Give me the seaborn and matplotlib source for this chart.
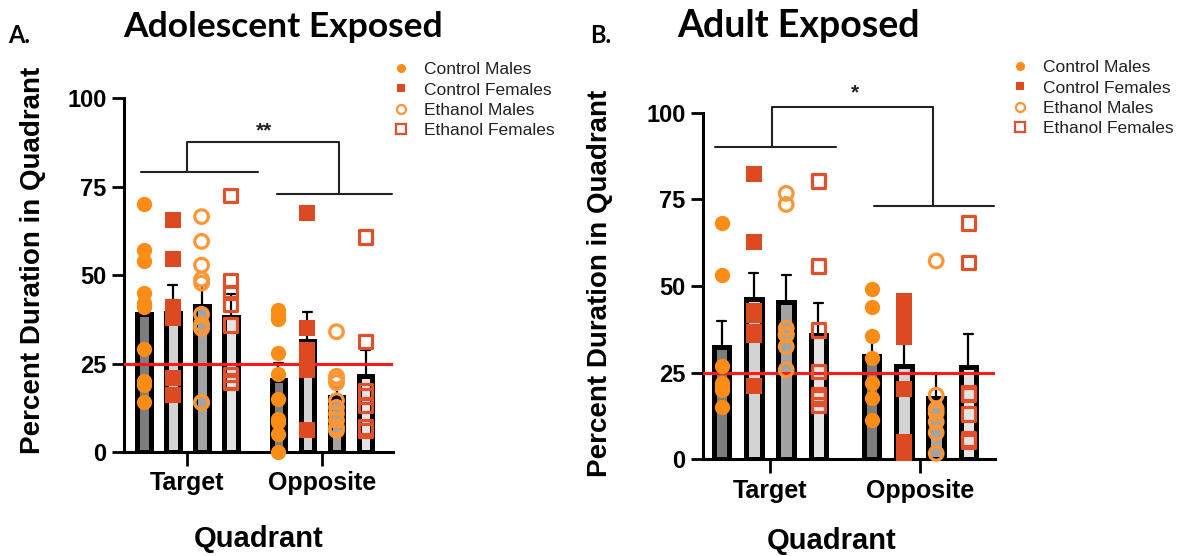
import numpy as np
import pandas as pd
import matplotlib
matplotlib.use("Agg")
import matplotlib.pyplot as plt
from matplotlib.lines import Line2D
import seaborn as sns

sns.set_theme(style="ticks")
plt.rcParams["font.family"] = ["Liberation Sans", "DejaVu Sans"]

groups = ["Control Males", "Control Females", "Ethanol Males", "Ethanol Females"]
quadrants = ["Target", "Opposite"]

# Panel A: adolescent exposed, percent duration per animal
adol_target = {
    "Control Males":   [70, 57, 54, 45, 42, 41, 29, 20, 19, 14],
    "Control Females": [65.5, 54.6, 41, 38, 21, 16],
    "Ethanol Males":   [66.5, 59.5, 52.8, 48.8, 47.7, 38.9, 36.1, 34.9, 14, 14],
    "Ethanol Females": [72.5, 48.4, 45.1, 41.9, 35.8, 21.9, 20, 19.6],
}
adol_opposite = {
    "Control Males":   [40, 38.6, 37.7, 27.9, 22.1, 15, 9.4, 8.5, 5, 0],
    "Control Females": [67.6, 34.9, 28.9, 27.5, 23.3, 6.1],
    "Ethanol Males":   [34, 21.4, 20.5, 19.6, 14.5, 12.6, 10.8, 8.9, 7, 6.1],
    "Ethanol Females": [60.7, 31.2, 17.3, 15.9, 13.1, 7, 6.1],
}

# Panel B: adult exposed, percent duration per animal
adult_target = {
    "Control Males":   [68.1, 53.2, 26.9, 22, 21, 20, 15.2],
    "Control Females": [82.3, 62.6, 42.9, 41.6, 36.8, 35.9, 21.1],
    "Ethanol Males":   [76.7, 73.5, 37.8, 36, 35.9, 32.5, 25.8],
    "Ethanol Females": [80.3, 55.8, 37.3, 25.3, 18.5, 17.6, 15.7],
}
adult_opposite = {
    "Control Males":   [49.1, 44, 35.6, 29.1, 22.1, 17.8, 11.3],
    "Control Females": [45.7, 42.9, 38.1, 35.4, 20.2, 5.1, 1.7],
    "Ethanol Males":   [57.2, 18.5, 14.5, 13.4, 10.8, 7.7, 1.7],
    "Ethanol Females": [68.1, 56.8, 19.2, 18.7, 13, 5.8, 5.1],
}

chance_level = 25

bar_fill = ["#7d7d7d", "#d3d3d3", "#a3a3a3", "#e4e4e4"]
point_style = {
    "Control Males":   dict(color="#fb8c16", marker="o", filled=True),
    "Control Females": dict(color="#dc4a22", marker="s", filled=True),
    "Ethanol Males":   dict(color="#fd9635", marker="o", filled=False),
    "Ethanol Females": dict(color="#e0502a", marker="s", filled=False),
}
SPACING = 0.215
offsets = {g: (k - 1.5) * SPACING for k, g in enumerate(groups)}


def build_frame(target, opposite):
    rows = []
    for qi, (q, block) in enumerate(zip(quadrants, [target, opposite])):
        for g in groups:
            for v in block[g]:
                rows.append({"quadrant": q, "group": g, "value": v,
                             "xpos": qi + offsets[g]})
    return pd.DataFrame(rows)


def draw_panel(ax, df, xlim):
    sns.barplot(data=df, x="xpos", y="value", hue="group", hue_order=groups,
                palette=bar_fill, native_scale=True, dodge=False, width=0.48,
                errorbar="se", capsize=0.28,
                err_kws={"color": "black", "linewidth": 1.6, "zorder": 0.8},
                edgecolor="black", linewidth=3.6, saturation=1,
                legend=False, ax=ax)
    ax.axhline(chance_level, color="#ff1a1a", lw=2.2, zorder=3)
    for g in groups:
        st = point_style[g]
        sub = df[df["group"] == g]
        n_before = len(ax.collections)
        sns.stripplot(data=sub, x="xpos", y="value", native_scale=True,
                      jitter=False, color=st["color"], marker=st["marker"],
                      size=11 if st["filled"] else 9.8, linewidth=0,
                      zorder=4, ax=ax)
        for coll in ax.collections[n_before:]:
            coll.set_clip_on(False)
            if not st["filled"]:
                coll.set_facecolor("none")
                coll.set_edgecolor(st["color"])
                coll.set_linewidth(2.3)
    ax.set_xlim(*xlim)
    ax.set_ylim(0, 100)
    ax.set_xticks([0, 1])
    ax.set_xticklabels(quadrants)
    ax.set_yticks([0, 25, 50, 75, 100])
    sns.despine(ax=ax)
    for side in ("left", "bottom"):
        ax.spines[side].set_linewidth(2.2)
        ax.spines[side].set_color("black")
    ax.tick_params(axis="y", length=9, width=2, pad=3.5, labelsize=17,
                   color="black", labelcolor="black")
    ax.tick_params(axis="x", length=10, width=2, pad=4, labelsize=18,
                   color="black", labelcolor="black")
    for lab in ax.get_xticklabels() + ax.get_yticklabels():
        lab.set_fontweight("bold")
    ax.set_xlabel("Quadrant", fontsize=21, fontweight="bold", color="black")
    ax.set_ylabel("Percent Duration in Quadrant", fontsize=20,
                  fontweight="bold", color="black")
    ax.yaxis.label.set_va("center")
    ax.xaxis.label.set_va("top")


def bracket(ax, left_line, right_line, top, stem_l, stem_r, stars, star_x, star_y):
    kw = dict(color="#222222", lw=1.5, clip_on=False, zorder=5)
    ax.plot(left_line[:2], [left_line[2]] * 2, **kw)
    ax.plot(right_line[:2], [right_line[2]] * 2, **kw)
    ax.plot([stem_l, stem_l, stem_r, stem_r],
            [left_line[2], top, top, right_line[2]], **kw)
    ax.text(star_x, star_y, stars, ha="center", va="center", fontsize=15,
            fontweight="bold", color="#222222")


def add_legend(fig, x_px, y_px):
    handles = []
    for g in groups:
        st = point_style[g]
        if st["filled"]:
            h = Line2D([], [], ls="none", marker=st["marker"], color=st["color"],
                       markersize=6.5 if st["marker"] == "o" else 6,
                       markeredgewidth=0)
        else:
            h = Line2D([], [], ls="none", marker=st["marker"],
                       markerfacecolor="none", markeredgecolor=st["color"],
                       markersize=6.5, markeredgewidth=1.6)
        handles.append(h)
    fig.legend(handles, groups, loc="upper left",
               bbox_to_anchor=(x_px / 1178, 1 - y_px / 556),
               frameon=False, fontsize=12.5, handlelength=1.0,
               handletextpad=0.85, borderpad=0, borderaxespad=0,
               labelspacing=0.3, labelcolor="#222222")


fig = plt.figure(figsize=(11.78, 5.56), dpi=100)
ax1 = fig.add_axes([0.1053, 0.187, 0.2283, 0.6367])
ax2 = fig.add_axes([0.5968, 0.1739, 0.2479, 0.6236])

draw_panel(ax1, build_frame(adol_target, adol_opposite), (-0.467, 1.526))
draw_panel(ax2, build_frame(adult_target, adult_opposite), (-0.447, 1.5))

ax1.xaxis.set_label_coords(0.502, -0.205)
ax1.yaxis.set_label_coords(-0.338, 0.542)
ax2.xaxis.set_label_coords(0.44, -0.195)
ax2.yaxis.set_label_coords(-0.353, 0.506)

bracket(ax1, (-0.34, 0.526, 79.1), (0.667, 1.52, 73.0), 87.7, 0.0, 1.128,
        "**", 0.57, 90.8)
bracket(ax2, (-0.367, 0.438, 90.2), (0.693, 1.495, 73.1), 101.6, 0.011, 1.089,
        "*", 0.567, 105.6)

add_legend(fig, 392, 62)
add_legend(fig, 1011, 60)

title_kw = dict(fontfamily=["Lato", "DejaVu Sans"], fontweight="bold",
                ha="left", va="baseline", color="black")
fig.text(123 / 1178, 1 - 37 / 556, "Adolescent Exposed", fontsize=25.5, **title_kw)
fig.text(677 / 1178, 1 - 37 / 556, "Adult Exposed", fontsize=27, **title_kw)
fig.text(8 / 1178, 1 - 43 / 556, "A.", fontsize=17, **title_kw)
fig.text(590 / 1178, 1 - 43 / 556, "B.", fontsize=17, **title_kw)

fig.savefig("out.png", dpi=100, facecolor="white")
